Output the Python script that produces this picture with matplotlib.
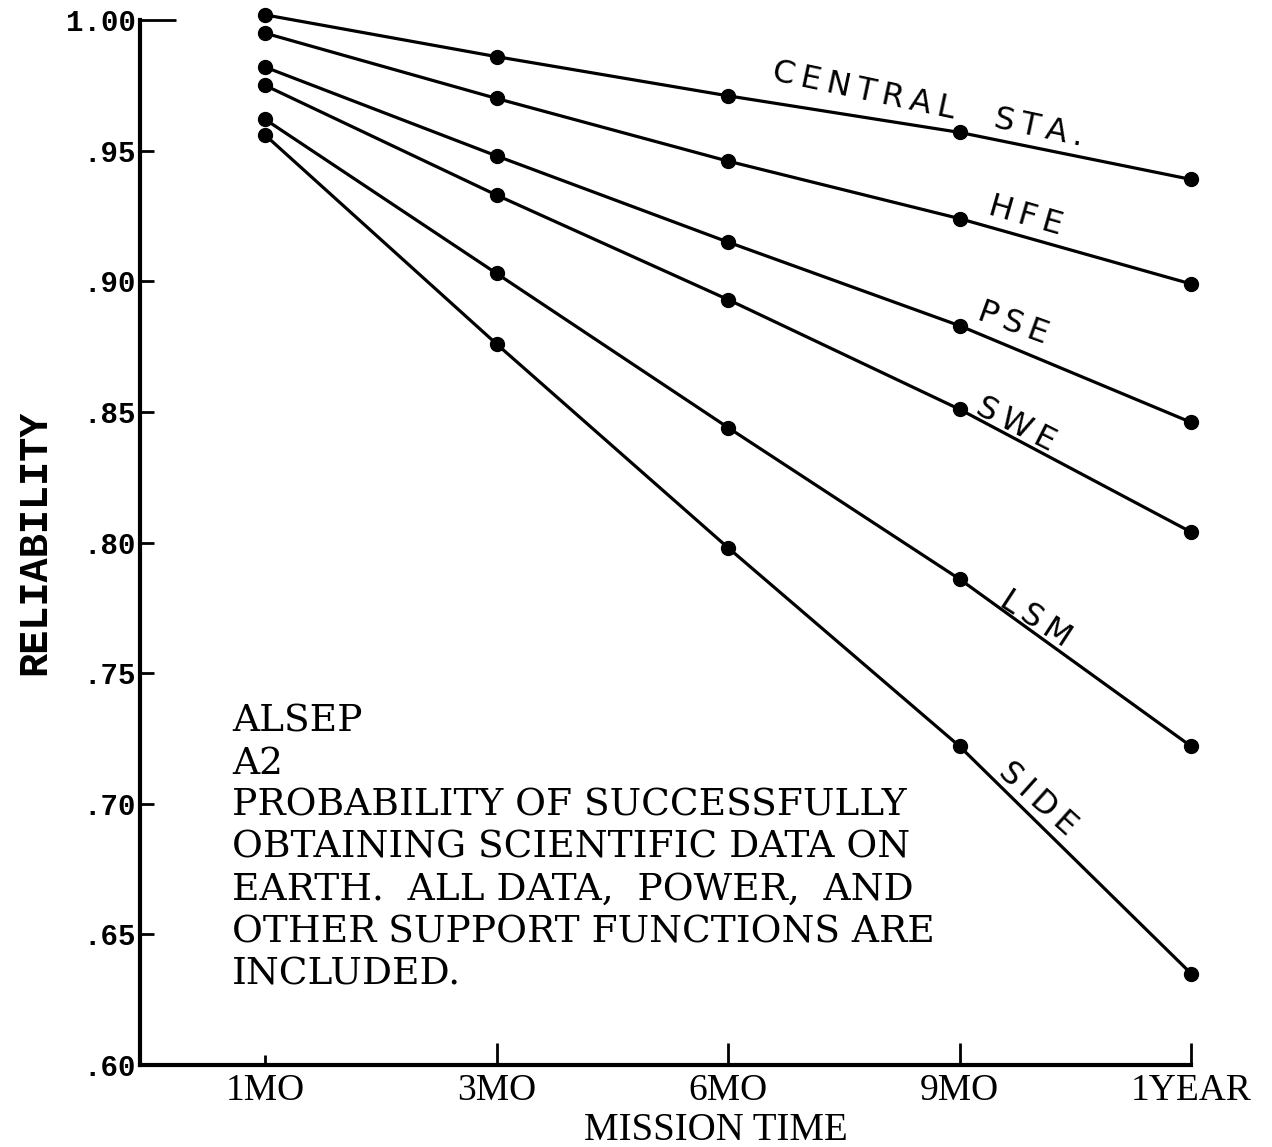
import matplotlib
matplotlib.use('Agg')
import matplotlib.pyplot as plt

# -------- Datos --------
times = ['1MO', '3MO', '6MO', '9MO', '1YEAR']

central_sta = [1.002, 0.986, 0.971, 0.957, 0.939]
hfe = [0.995, 0.970, 0.946, 0.924, 0.899]
pse = [0.982, 0.948, 0.915, 0.883, 0.846]
swe = [0.975, 0.933, 0.893, 0.851, 0.804]
lsm = [0.962, 0.903, 0.844, 0.786, 0.722]
side = [0.956, 0.876, 0.798, 0.722, 0.635]

y_ticks = [0.60, 0.65, 0.70, 0.75, 0.80, 0.85, 0.90, 0.95, 1.00]
y_tick_labels = ['.60', '.65', '.70', '.75', '.80', '.85', '.90', '.95', '1.00']

names = ['CENTRAL STA.', 'HFE', 'PSE', 'SWE', 'LSM', 'SIDE']
series = [central_sta, hfe, pse, swe, lsm, side]

note = ('ALSEP\n'
        'A2\n'
        'PROBABILITY OF SUCCESSFULLY\n'
        'OBTAINING SCIENTIFIC DATA ON\n'
        'EARTH.  ALL DATA,  POWER,  AND\n'
        'OTHER SUPPORT FUNCTIONS ARE\n'
        'INCLUDED.')

# posicion de las etiquetas a mano (offset en pixeles desde el punto de 9MO, rotacion)
label_style = {
    'CENTRAL STA.': (-32, 28, -12),
    'HFE': (66, 2, -16),
    'PSE': (53, 2, -20),
    'SWE': (56, -15, -27),
    'LSM': (76, -40, -33),
    'SIDE': (78, -53, -42),
}


def spaced(s):
    # letras a mano, mas separadas
    return '\u2009'.join(s).replace('\u2009 \u2009', '    ')


# -------- Grafica --------
fig = plt.figure(figsize=(12.72, 11.47), dpi=100)
ax = fig.add_axes([0.1101, 0.0715, 0.8263, 0.911])

x = list(range(len(times)))
for name, vals in zip(names, series):
    ax.plot(x, vals, color='black', lw=2.3, marker='o', ms=10, clip_on=False)
    dx, dy, rot = label_style[name]
    ax.annotate(spaced(name), xy=(x[3], vals[3]), xytext=(dx, dy), textcoords='offset pixels',
                rotation=rot, rotation_mode='anchor', ha='center', va='center',
                fontsize=23, fontfamily='DejaVu Sans')

ax.set_xlim(-0.54, 4.0)
ax.set_ylim(0.60, 1.00)

for s in ['top', 'right']:
    ax.spines[s].set_visible(False)
for s in ['left', 'bottom']:
    ax.spines[s].set_linewidth(3)

ax.set_xticks(x)
ax.set_xticklabels(times, fontfamily='Liberation Serif', fontsize=27)
ax.set_yticks(y_ticks)
ax.set_yticklabels(y_tick_labels, fontfamily='Liberation Mono', fontweight='bold', fontsize=21)
ax.tick_params(axis='y', direction='in', length=10, width=2, pad=3)
ax.tick_params(axis='x', direction='in', length=16, width=2, pad=6)
ax.xaxis.get_major_ticks()[0].tick1line.set_markersize(7)
ax.yaxis.get_major_ticks()[-1].tick1line.set_markersize(26)

ax.set_ylabel('RELIABILITY', fontfamily='Liberation Mono', fontweight='bold', fontsize=29)
ax.yaxis.set_label_coords(-0.083, 0.5)
ax.set_xlabel('MISSION TIME', fontfamily='Liberation Serif', fontsize=28)
ax.xaxis.set_label_coords(0.548, -0.045)

ax.text(0.0875, 0.346, note, transform=ax.transAxes, ha='left', va='top',
        fontfamily='DejaVu Serif', fontsize=27, linespacing=1.22)

fig.savefig('out.png', dpi=100)
